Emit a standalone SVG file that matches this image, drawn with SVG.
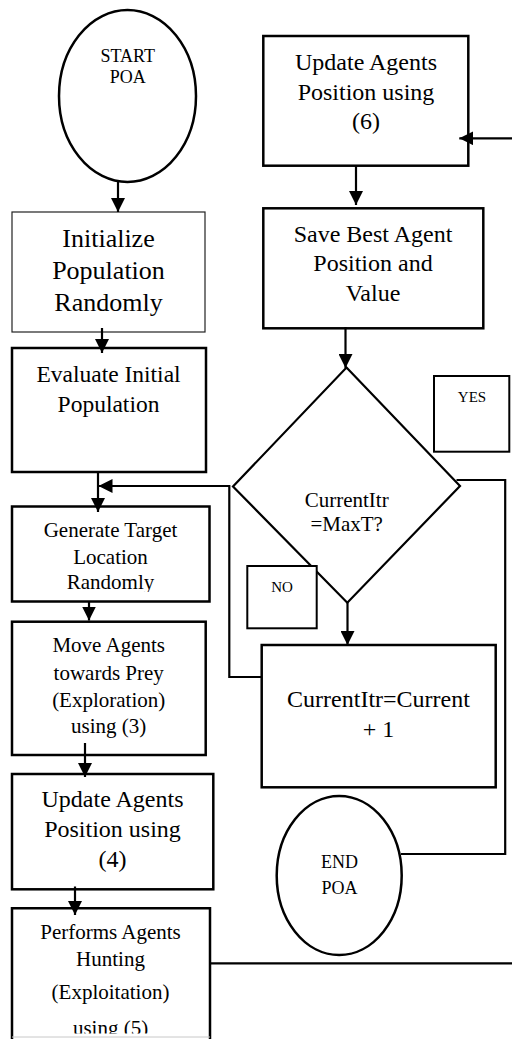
<svg xmlns="http://www.w3.org/2000/svg" width="512" height="1039" viewBox="0 0 512 1039">
<style>
  text { font-family: "Liberation Serif", "Times New Roman", serif; fill: #000; text-anchor: middle; }
  .box { fill: #fff; stroke: #000; stroke-width: 2.5; }
  .thin { fill: #fff; stroke: #222; stroke-width: 1.2; }
  .lbl { fill: #fff; stroke: #000; stroke-width: 2; }
  .term { fill: #fff; stroke: #000; stroke-width: 2.5; }
  .conn { fill: none; stroke: #000; stroke-width: 2.2; }
  .f26 { font-size: 26px; }
  .f24 { font-size: 24px; }
  .f23 { font-size: 23.5px; }
  .f21 { font-size: 21px; }
  .f18 { font-size: 18px; }
  .f15 { font-size: 15px; }
</style>
<defs>
  <marker id="arr" markerUnits="userSpaceOnUse" viewBox="0 0 14 14" markerWidth="14" markerHeight="14" refX="14" refY="7" orient="auto">
    <path d="M0,0 L14,7 L0,14 z" fill="#000"/>
  </marker>
  <clipPath id="clipGen"><rect x="12" y="506" width="198" height="86"/></clipPath>
  <clipPath id="clipPerf"><rect x="12" y="908" width="198" height="125.5"/></clipPath>
</defs>
<rect width="512" height="1039" fill="#fff"/>

<g id="start">
  <ellipse class="term" cx="127.5" cy="96" rx="68.5" ry="86"/>
  <text class="f18" x="127.7" y="61.7">START</text>
  <text class="f18" x="127.7" y="83.3">POA</text>
</g>

<g id="initialize">
  <rect class="thin" x="12" y="212" width="193" height="120"/>
  <text class="f26" x="108.5" y="246.7">Initialize</text>
  <text class="f26" x="108.5" y="279">Population</text>
  <text class="f26" x="108.5" y="311">Randomly</text>
</g>

<g id="evaluate">
  <rect class="box" x="12" y="348" width="194" height="124"/>
  <text class="f23" x="108.5" y="381.7">Evaluate Initial</text>
  <text class="f23" x="108.5" y="411.7">Population</text>
</g>

<g id="generate">
  <rect class="box" x="12" y="506.5" width="197.5" height="95"/>
  <g clip-path="url(#clipGen)">
    <text class="f21" x="110.5" y="536.7">Generate Target</text>
    <text class="f21" x="110.5" y="563.5">Location</text>
    <text class="f21" x="110.5" y="589">Randomly</text>
  </g>
</g>

<g id="move">
  <rect class="box" x="12" y="621.7" width="193.7" height="133.3"/>
  <text class="f21" x="108.7" y="651.7">Move Agents</text>
  <text class="f21" x="108.7" y="679.5">towards Prey</text>
  <text class="f21" x="108.7" y="706.7">(Exploration)</text>
  <text class="f21" x="108.7" y="733.3">using (3)</text>
</g>

<g id="update4">
  <rect class="box" x="12" y="774" width="201.3" height="115.3"/>
  <text class="f24" x="112.5" y="806.7">Update Agents</text>
  <text class="f24" x="112.5" y="836.7">Position using</text>
  <text class="f24" x="112.5" y="867">(4)</text>
</g>

<g id="performs">
  <path d="M12,1039 V908.3 H210 V1039" fill="#fff" stroke="#000" stroke-width="2.5"/>
  <line x1="12" y1="1037" x2="210" y2="1037" stroke="#c8c8c8" stroke-width="1"/>
  <g clip-path="url(#clipPerf)">
    <text class="f21" x="110.5" y="939.3">Performs Agents</text>
    <text class="f21" x="110.5" y="966">Hunting</text>
    <text class="f21" x="110.5" y="998.5">(Exploitation)</text>
    <text class="f21" x="110.5" y="1034.5">using (5)</text>
  </g>
</g>

<g id="update6">
  <rect class="box" x="263.3" y="36" width="205" height="129.7"/>
  <text class="f24" x="366" y="70">Update Agents</text>
  <text class="f24" x="366" y="100">Position using</text>
  <text class="f24" x="366" y="129.3">(6)</text>
</g>

<g id="savebest">
  <rect class="box" x="263.3" y="208.3" width="220" height="120"/>
  <text class="f24" x="373" y="241.7">Save Best Agent</text>
  <text class="f24" x="373" y="270.5">Position and</text>
  <text class="f24" x="373" y="300.7">Value</text>
</g>

<g id="decision">
  <polygon points="346.5,367.5 460,486 347.3,602.7 233,486.5" fill="#fff" stroke="#000" stroke-width="2.2"/>
  <text class="f21" x="346.7" y="506.7">CurrentItr</text>
  <text class="f21" x="346.7" y="530.7">=MaxT?</text>
</g>

<g id="yes">
  <rect class="lbl" x="434" y="376" width="75.3" height="75.7"/>
  <text class="f15" x="472" y="401.7">YES</text>
</g>

<g id="no">
  <rect class="lbl" x="247.3" y="566" width="69.4" height="62.3"/>
  <text class="f15" x="282" y="591.7">NO</text>
</g>

<g id="increment">
  <rect class="box" x="261.7" y="645" width="234" height="142.3"/>
  <text class="f24" x="378.5" y="706.7">CurrentItr=Current</text>
  <text class="f24" x="378.5" y="736.7">+ 1</text>
</g>

<g id="end">
  <ellipse class="term" cx="339.2" cy="875.5" rx="62.5" ry="79.5"/>
  <text class="f18" x="339.5" y="868.3">END</text>
  <text class="f18" x="339.5" y="894">POA</text>
</g>

<g id="connectors">
  <line class="conn" x1="118" y1="182" x2="118" y2="212" marker-end="url(#arr)"/>
  <line class="conn" x1="102" y1="328" x2="102" y2="353" marker-end="url(#arr)"/>
  <line class="conn" x1="98" y1="472" x2="98" y2="512" marker-end="url(#arr)"/>
  <path class="conn" d="M262,677 H229.3 V486 H98.5" marker-end="url(#arr)"/>
  <line class="conn" x1="89" y1="602" x2="89" y2="620.5" marker-end="url(#arr)"/>
  <line class="conn" x1="85" y1="743" x2="85" y2="777" marker-end="url(#arr)"/>
  <line class="conn" x1="75" y1="886.5" x2="75" y2="915" marker-end="url(#arr)"/>
  <line class="conn" x1="211" y1="963.3" x2="512" y2="963.3"/>
  <line class="conn" x1="512" y1="138.3" x2="459.3" y2="138.3" marker-end="url(#arr)"/>
  <line class="conn" x1="356" y1="166" x2="356" y2="205" marker-end="url(#arr)"/>
  <line class="conn" x1="345.5" y1="327" x2="345.5" y2="368" marker-end="url(#arr)"/>
  <line class="conn" x1="347.5" y1="602" x2="347.5" y2="645" marker-end="url(#arr)"/>
  <path class="conn" d="M456.5,480 H505.2 V854 H401"/>
</g>
</svg>
